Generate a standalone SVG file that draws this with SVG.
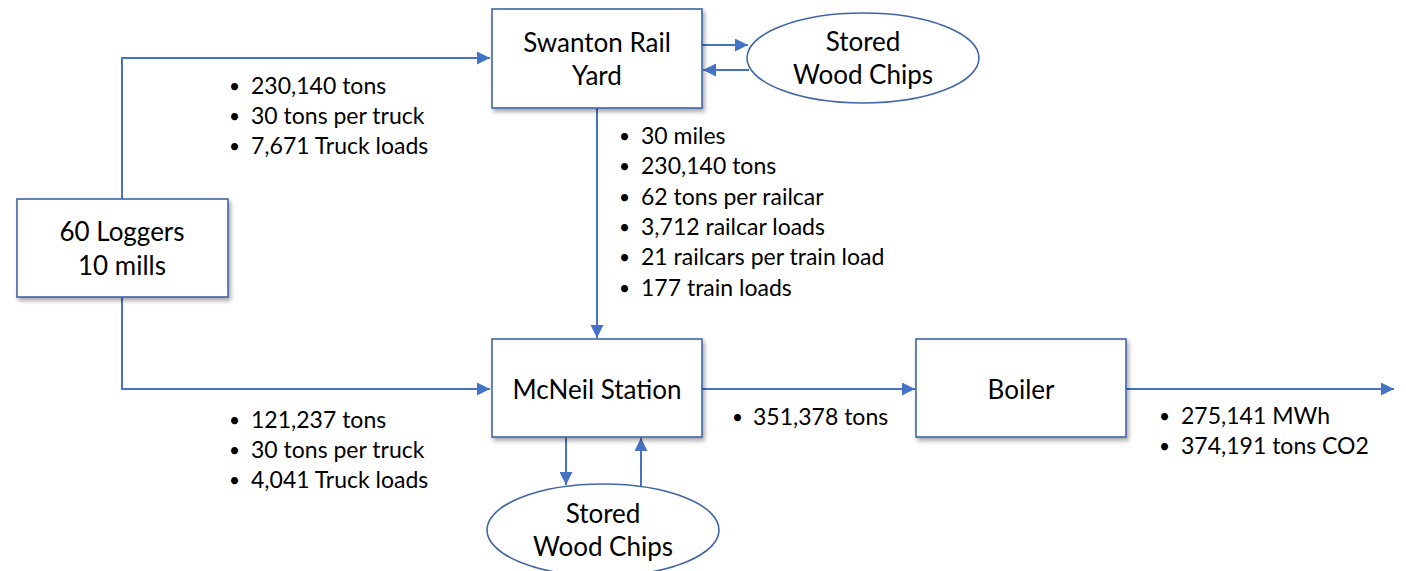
<svg xmlns="http://www.w3.org/2000/svg" width="1406" height="571" viewBox="0 0 1406 571">
  <defs>
    <filter id="shadow" x="-10%" y="-10%" width="130%" height="140%">
      <feDropShadow dx="2" dy="3" stdDeviation="2" flood-color="#000" flood-opacity="0.35"/>
    </filter>
    <marker id="arrow" viewBox="0 0 10 10" refX="10" refY="5" markerWidth="6.5" markerHeight="6.5" markerUnits="strokeWidth" orient="auto">
      <path d="M0,0 L10,5 L0,10 z" fill="#4472C4"/>
    </marker>
  </defs>
  <style>
    .box { fill: #fff; stroke: #3F65A8; stroke-width: 1.6; filter: url(#shadow); }
    .oval { fill: #fff; stroke: #3F65A8; stroke-width: 1.6; }
    .link { fill: none; stroke: #4472C4; stroke-width: 2; }
    .arr { marker-end: url(#arrow); }
    text { font-family: Lato, "Liberation Sans", sans-serif; fill: #000; }
    .node { font-size: 26px; text-anchor: middle; }
    .note { font-size: 23px; }
    .dot { font-size: 19px; }
  </style>
  <rect width="1406" height="571" fill="#fff"/>

  <g id="connectors">
    <polyline class="link arr" points="122,199 122,58 490,58"/>
    <polyline class="link arr" points="122,297 122,389 490,389"/>
    <line class="link arr" x1="702" y1="45" x2="748" y2="45"/>
    <line class="link arr" x1="749" y1="70" x2="703" y2="70"/>
    <line class="link arr" x1="597" y1="108" x2="597" y2="338"/>
    <line class="link arr" x1="566" y1="437" x2="566" y2="485"/>
    <line class="link arr" x1="641" y1="486" x2="641" y2="438"/>
    <line class="link arr" x1="702" y1="389" x2="915" y2="389"/>
    <line class="link arr" x1="1126" y1="389" x2="1394" y2="389"/>
  </g>

  <g id="loggers">
    <rect class="box" x="17" y="199" width="211" height="98"/>
    <text class="node" x="122" y="241">60 Loggers</text>
    <text class="node" x="122" y="275">10 mills</text>
  </g>

  <g id="swanton">
    <rect class="box" x="492" y="9" width="210" height="99"/>
    <text class="node" x="597" y="52">Swanton Rail</text>
    <text class="node" x="597" y="85">Yard</text>
  </g>

  <g id="stored-top">
    <ellipse class="oval" cx="863" cy="58" rx="116" ry="45"/>
    <text class="node" x="863" y="51">Stored</text>
    <text class="node" x="863" y="84">Wood Chips</text>
  </g>

  <g id="mcneil">
    <rect class="box" x="492" y="339" width="210" height="98"/>
    <text class="node" x="597" y="399">McNeil Station</text>
  </g>

  <g id="stored-bottom">
    <ellipse class="oval" cx="603" cy="530" rx="116" ry="46"/>
    <text class="node" x="603" y="523">Stored</text>
    <text class="node" x="603" y="556">Wood Chips</text>
  </g>

  <g id="boiler">
    <rect class="box" x="916" y="339" width="210" height="98"/>
    <text class="node" x="1021" y="399">Boiler</text>
  </g>

  <g id="labels" class="note">
    <text class="dot" x="229" y="93">•</text><text x="251" y="94">230,140 tons</text>
    <text class="dot" x="229" y="123">•</text><text x="251" y="124">30 tons per truck</text>
    <text class="dot" x="229" y="153">•</text><text x="251" y="154">7,671 Truck loads</text>

    <text class="dot" x="619" y="143">•</text><text x="641" y="144">30 miles</text>
    <text class="dot" x="619" y="173">•</text><text x="641" y="174">230,140 tons</text>
    <text class="dot" x="619" y="204">•</text><text x="641" y="205">62 tons per railcar</text>
    <text class="dot" x="619" y="234">•</text><text x="641" y="235">3,712 railcar loads</text>
    <text class="dot" x="619" y="264">•</text><text x="641" y="265">21 railcars per train load</text>
    <text class="dot" x="619" y="295">•</text><text x="641" y="296">177 train loads</text>

    <text class="dot" x="229" y="427">•</text><text x="251" y="428">121,237 tons</text>
    <text class="dot" x="229" y="457">•</text><text x="251" y="458">30 tons per truck</text>
    <text class="dot" x="229" y="487">•</text><text x="251" y="488">4,041 Truck loads</text>

    <text class="dot" x="732" y="424">•</text><text x="753" y="425">351,378 tons</text>

    <text class="dot" x="1159" y="423">•</text><text x="1181" y="424">275,141 MWh</text>
    <text class="dot" x="1159" y="453">•</text><text x="1181" y="454">374,191 tons CO2</text>
  </g>
</svg>
